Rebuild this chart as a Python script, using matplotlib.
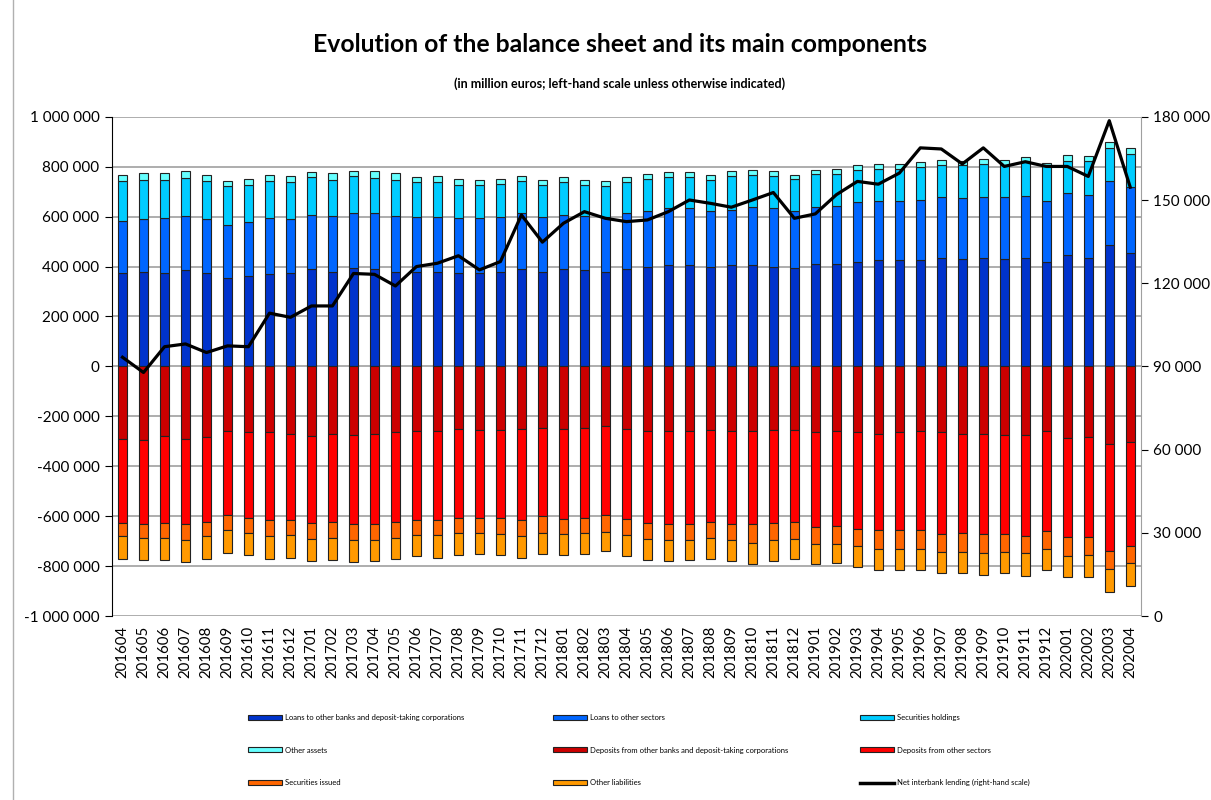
# balance sheet evolution - stacked bars with interbank lending line

import numpy as np
import matplotlib.pyplot as plt
from matplotlib.patches import Patch
from matplotlib.lines import Line2D
from matplotlib.ticker import FuncFormatter

plt.rcParams['font.family'] = ['Lato', 'DejaVu Sans']

months = ['201604','201605','201606','201607','201608','201609','201610','201611','201612',
          '201701','201702','201703','201704','201705','201706','201707','201708','201709',
          '201710','201711','201712','201801','201802','201803','201804','201805','201806',
          '201807','201808','201809','201810','201811','201812','201901','201902','201903',
          '201904','201905','201906','201907','201908','201909','201910','201911','201912',
          '202001','202002','202003','202004']

# assets (thousand million euros -> scaled below)
loans_banks = [375,380,375,385,375,356,361,372,375,391,380,396,391,380,377,377,375,375,380,391,
               380,391,385,380,391,400,405,405,400,405,405,400,395,411,409,419,425,425,425,435,
               429,435,429,435,420,445,435,485,455]
loans_other = [208,209,220,218,214,212,218,223,214,217,223,217,222,223,222,222,220,220,219,222,
               219,217,219,219,222,223,230,230,223,223,232,233,228,226,232,238,239,239,243,242,
               244,242,248,246,241,248,252,256,262]
sec_holdings = [160,158,152,153,154,155,149,148,148,151,144,148,143,144,138,138,132,132,133,130,
                128,129,123,124,124,129,122,122,124,133,130,128,129,135,131,130,128,128,129,130,
                134,135,130,140,146,128,134,136,134]
other_assets = [25,26,26,27,25,20,24,25,26,21,26,22,27,26,20,24,24,20,19,18,
                20,20,20,18,20,20,20,20,20,20,20,20,15,15,20,20,20,20,20,20,
                16,20,20,16,6,24,22,24,26]

# liabilities (negative side)
dep_banks = [289,295,280,289,284,260,264,264,269,280,269,275,269,264,260,260,249,255,255,249,
             245,249,245,240,249,260,260,260,255,260,260,255,255,264,260,264,269,264,260,264,
             269,269,275,275,260,285,281,309,304]
dep_other = [339,337,348,343,339,337,344,353,348,348,354,357,363,359,357,357,358,352,352,368,
             356,363,362,357,363,367,372,372,368,372,372,372,368,379,381,387,387,392,396,407,
             398,402,396,406,401,400,404,431,416]
sec_issued = [53,55,59,64,58,60,59,64,59,64,64,64,64,64,59,59,60,60,64,64,
              66,60,60,66,64,65,65,65,64,65,75,70,69,68,70,70,75,75,75,74,
              78,78,74,68,70,75,71,71,69]
other_liab = [91,89,89,89,91,90,89,91,91,88,89,89,84,85,85,91,89,84,85,86,
              84,84,84,78,85,84,84,79,84,84,84,84,80,80,78,83,84,84,84,84,
              84,86,84,91,84,84,88,92,91]

# net interbank lending, right-hand scale (thousand million)
interbank = [93.3,87.8,97.1,98.1,95.0,97.4,97.1,109.2,107.7,111.8,111.8,123.5,123.2,119.0,
             126.0,127.2,129.9,124.8,127.8,144.6,134.8,141.6,145.8,143.4,142.2,142.8,145.8,
             150.0,148.8,147.4,150.0,152.7,143.4,145.0,151.9,156.7,155.7,159.7,168.8,168.4,
             163.0,168.8,162.1,163.8,162.1,162.1,158.5,178.6,154.6]

pos_series = [
    ('Loans to other banks and deposit-taking corporations', loans_banks, '#0033CC'),
    ('Loans to other sectors', loans_other, '#0066FF'),
    ('Securities holdings', sec_holdings, '#00CCFF'),
    ('Other assets', other_assets, '#66FFFF'),
]
neg_series = [
    ('Deposits from other banks and deposit-taking corporations', dep_banks, '#CC0000'),
    ('Deposits from other sectors', dep_other, '#FF0000'),
    ('Securities issued', sec_issued, '#FF6600'),
    ('Other liabilities', other_liab, '#FF9900'),
]

x = np.arange(len(months))
w = 0.45

fig = plt.figure(figsize=(12.11, 8), dpi=100)
ax = fig.add_axes([0.0925, 0.23, 0.8495, 0.624])

bottom = np.zeros(len(x))
for name, vals, col in pos_series:
    v = np.array(vals) * 1000
    ax.bar(x, v, w, bottom=bottom, color=col, edgecolor='#222222', linewidth=0.8, zorder=3)
    bottom += v
bottom = np.zeros(len(x))
for name, vals, col in neg_series:
    v = -np.array(vals) * 1000
    ax.bar(x, v, w, bottom=bottom, color=col, edgecolor='#222222', linewidth=0.8, zorder=3)
    bottom += v

ax.set_xlim(-0.5, len(x) - 0.5)
ax.set_ylim(-1000000, 1000000)
ax.set_yticks(np.arange(-1000000, 1000001, 200000))
fmt = FuncFormatter(lambda v, p: '{:,.0f}'.format(v).replace(',', ' '))
ax.yaxis.set_major_formatter(fmt)
ax.yaxis.grid(True, color='#A0A0A0', linewidth=1.2, zorder=0)
ax.set_axisbelow(True)
ax.set_xticks(x)
ax.set_xticklabels(months, rotation=90, fontsize=10.8)
ax.tick_params(axis='x', length=0, pad=7)
ax.tick_params(axis='y', labelsize=11, length=5, direction='out', pad=4)
for s in ['top', 'right', 'bottom']:
    ax.spines[s].set_visible(False)
ax.spines['left'].set_color('black')

ax2 = ax.twinx()
ax2.plot(x, np.array(interbank) * 1000, color='black', linewidth=2.3, zorder=5)
ax2.set_ylim(0, 180000)
ax2.set_yticks(np.arange(0, 180001, 30000))
ax2.yaxis.set_major_formatter(fmt)
ax2.tick_params(axis='y', labelsize=11, length=5, direction='out', pad=4)
for s in ['top', 'left', 'bottom']:
    ax2.spines[s].set_visible(False)
ax2.spines['right'].set_color('#A0A0A0')

fig.text(0.512, 0.944, 'Evolution of the balance sheet and its main components',
         ha='center', va='center', fontsize=17.8, fontweight='bold')
fig.text(0.512, 0.896, '(in million euros; left-hand scale unless otherwise indicated)',
         ha='center', va='center', fontsize=9, fontweight='bold')

# chart area border on the left
fig.add_artist(Line2D([13 / 1211, 13 / 1211], [0, 1], color='#B0B0B0', linewidth=1))

# legend laid out in three columns
items = [(n, c) for n, v, c in pos_series[:3]] + [(pos_series[3][0], pos_series[3][2])] + \
        [(n, c) for n, v, c in neg_series] + [('Net interbank lending (right-hand scale)', None)]
rows = [items[0:3], items[3:6], items[6:9]]
col_x = [248 / 1211, 553 / 1211, 860 / 1211]
for ci in range(3):
    handles = []
    labels = []
    for r in rows:
        name, col = r[ci]
        if col is None:
            handles.append(Line2D([], [], color='black', linewidth=2.5))
        else:
            handles.append(Patch(facecolor=col, edgecolor='#222222', linewidth=0.8))
        labels.append(name)
    fig.legend(handles, labels, loc='upper left', bbox_to_anchor=(col_x[ci], 1 - 714 / 800),
               frameon=False, fontsize=5.5, handlelength=4.4, handleheight=0.6,
               labelspacing=3.35, handletextpad=0.4, borderpad=0, borderaxespad=0)

fig.savefig('out.png', dpi=100)
